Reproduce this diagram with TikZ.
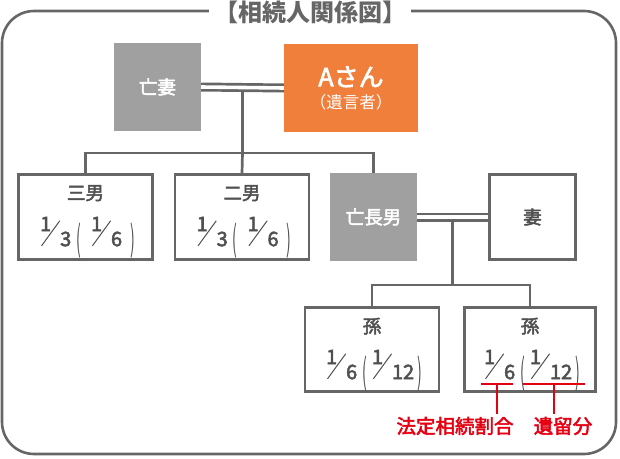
\documentclass[tikz,border=0pt]{standalone}
\usepackage{fontspec}
\setmainfont{Noto Sans CJK JP}[UprightFeatures={FakeBold=2.6}]
\newfontfamily\thinFont{Noto Sans CJK JP}
\usepackage{graphicx}
\usetikzlibrary{positioning, calc}

\definecolor{lineGray}{HTML}{666666}
\definecolor{boxGray}{HTML}{A0A0A0}
\definecolor{heirOrange}{HTML}{EF7F3B}
\definecolor{noteRed}{HTML}{E50012}
\definecolor{textGray}{HTML}{505050}

\newcommand{\nameFont}{\fontsize{18.5}{22}\selectfont}
\newcommand{\fracFont}{\fontsize{20}{22}\selectfont}
% slashed fraction: numerator up, denominator down
\newcommand{\bunsu}[2]{%
  \rlap{\raisebox{15pt}{#1}}%
  \kern1pt\raisebox{0pt}{\rotatebox{54}{\rule{31pt}{1pt}}}%
  \kern0pt#2}
\newcommand{\kakko}[1]{\raisebox{-5pt}{\scalebox{0.7}[1.75]{\thinFont #1}}}

\begin{document}
\begin{tikzpicture}[x=1pt, y=-1pt,
    conn/.style={draw=lineGray, line width=2.7pt},
    marriage/.style={draw=lineGray, line width=2.7pt, double=white, double distance=3.6pt},
    graybox/.style={rectangle, fill=boxGray, minimum width=87pt, minimum height=88pt, inner sep=0pt, text=white, font=\nameFont},
    whitebox/.style={rectangle, draw=lineGray, line width=2.7pt, fill=white, minimum width=134pt, minimum height=85pt, inner sep=0pt, text=textGray, font=\nameFont},
    nametext/.style={inner sep=0pt, text=textGray, font=\nameFont},
    fractext/.style={inner sep=0pt, anchor=base, text=textGray, font=\fracFont},
    notetext/.style={inner sep=3pt, text=noteRed, font=\fontsize{19.5}{22}\selectfont},
    noteline/.style={draw=noteRed, line width=1.5pt}
  ]
  \useasboundingbox (0,0) rectangle (620,458);

  % frame and title
  \draw[lineGray, line width=2.6pt, rounded corners=32pt] (2,11) rectangle (616,454);
  \node[fill=white, minimum width=202pt, inner sep=0pt, text=lineGray,
        font=\fontsize{24}{26}\selectfont\bfseries] (title) at (310,12) {【相続人関係図】};

  % first generation
  \node[graybox] (boma) at (157.5,87) {亡妻};
  \node[rectangle, fill=heirOrange, minimum width=134pt, minimum height=88pt, inner sep=0pt,
        text=white, align=center, font=\fontsize{16.5}{22}\selectfont] (asan) at (351,88)
        {{\fontsize{25}{28}\selectfont Aさん}\\{\thinFont （遺言者）}};

  % children
  \node[whitebox] (sannan) at (85.5,217) {};
  \node[whitebox] (jinan) at (242,217) {};
  \node[graybox] (chonan) at (373.5,217) {亡長男};
  \node[whitebox, minimum width=86pt] (tsuma) at (532.5,217) {妻};

  % grandchildren
  \node[whitebox, minimum height=84pt] (mago1) at (372,349.5) {};
  \node[whitebox, minimum height=84pt, minimum width=131pt] (mago2) at (530,349.5) {};

  \node[nametext] (sannanName) at ($(sannan.north)+(0,20)$) {三男};
  \node[fractext] (sannanFrac) at ($(sannan.north)+(2,73)$)
    {\bunsu{1}{3}\kern5pt\kakko{(}\kern10pt\bunsu{1}{6}\kern8pt\kakko{)}};
  \node[nametext] (jinanName) at ($(jinan.north)+(0,20)$) {二男};
  \node[fractext] (jinanFrac) at ($(jinan.north)+(2,73)$)
    {\bunsu{1}{3}\kern5pt\kakko{(}\kern10pt\bunsu{1}{6}\kern8pt\kakko{)}};
  \node[nametext] (mago1Name) at ($(mago1.north)+(0,20)$) {孫};
  \node[fractext] (mago1Frac) at ($(mago1.north)+(2,73)$)
    {\bunsu{1}{6}\kern5pt\kakko{(}\kern5pt\bunsu{1}{12}\kern3pt\kakko{)}};
  \node[nametext] (mago2Name) at ($(mago2.north)+(0,20)$) {孫};
  \node[fractext] (mago2Frac) at ($(mago2.north)+(2,73)$)
    {\bunsu{1}{6}\kern5pt\kakko{(}\kern5pt\bunsu{1}{12}\kern3pt\kakko{)}};

  % family lines
  \coordinate (fuufu1) at ($(boma.east)!0.5!(asan.west)$);
  \coordinate (bunki1) at (fuufu1 |- 0,153);
  \draw[conn] (fuufu1) -- (bunki1);
  \draw[conn] (sannan.north) |- (bunki1) -| (chonan.north);
  \draw[conn] (bunki1) -- (jinan.north);
  \draw[marriage] (boma.east) -- (asan.west);

  \coordinate (fuufu2) at ($(chonan.east)!0.5!(tsuma.west)$);
  \coordinate (bunki2) at (fuufu2 |- 0,285);
  \draw[conn] (fuufu2) -- (bunki2);
  \draw[conn] (mago1.north) |- (bunki2) -| (mago2.north);
  \draw[marriage] (chonan.east) -- (tsuma.west);

  % notes
  \coordinate (ul1a) at (481,384);
  \coordinate (ul1b) at (513,384);
  \coordinate (ul2a) at (523,384);
  \coordinate (ul2b) at (585,384);
  \coordinate (ul1m) at ($(ul1a)!0.5!(ul1b)$);
  \coordinate (ul2m) at ($(ul2a)!0.5!(ul2b)$);
  \node[notetext] (houtei) at (455,426) {法定相続割合};
  \node[notetext] (iryubun) at (563,426) {遺留分};
  \draw[noteline] (ul1a) -- (ul1b);
  \draw[noteline] (ul2a) -- (ul2b);
  \draw[noteline] (ul1m) -- (ul1m |- houtei.north);
  \draw[noteline] (ul2m) -- (ul2m |- iryubun.north);
\end{tikzpicture}
\end{document}
